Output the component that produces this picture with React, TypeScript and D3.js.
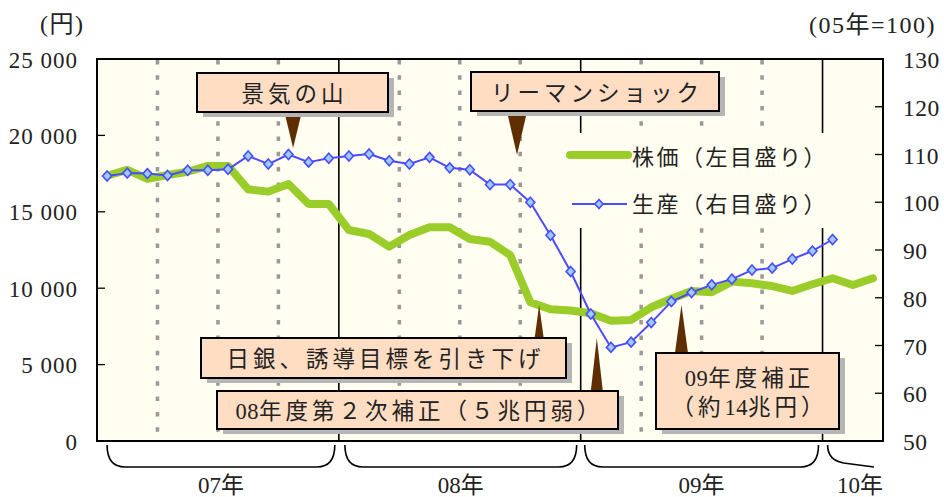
import React from "react";
import * as d3 from "d3";

// ---- data (monthly, Jan 2007 .. Mar 2010) ----
const stockPrice = [
  17360, 17740, 17150, 17410, 17620, 18000, 18000, 16470, 16320, 16820, 15510, 15510,
  13810, 13550, 12720, 13480, 13990, 13990, 13220, 13040, 12170, 9080, 8620, 8540,
  8360, 7870, 7920, 8750, 9310, 9820, 9740, 10430, 10320, 10140, 9820, 10260,
  10650, 10210, 10650,
];
const production = [
  105.5, 106.1, 106.0, 105.6, 106.7, 106.7, 106.9, 109.7, 108.0, 110.0, 108.4, 109.2,
  109.7, 110.1, 108.7, 108.0, 109.4, 107.2, 106.8, 103.7, 103.7, 100.0, 93.1, 85.5,
  76.6, 69.6, 70.7, 74.8, 79.2, 81.1, 82.7, 83.9, 85.8, 86.2, 88.1, 89.8,
  92.2,
];
const leftTicks = [0, 5000, 10000, 15000, 20000, 25000];
const rightTicks = [50, 60, 70, 80, 90, 100, 110, 120, 130];
const years = ["07年", "08年", "09年", "10年"];
const legendLabels = ["株価（左目盛り）", "生産（右目盛り）"];
const TOTAL_MONTHS = 39;

// annotations: month position (continuous, from left edge)
const annotations = [
  { text: ["景気の山"], month: 9.73, dir: "down" },
  { text: ["リーマンショック"], month: 20.84, dir: "down" },
  { text: ["日銀、誘導目標を引き下げ"], month: 21.94, dir: "up" },
  { text: ["08年度第２次補正（５兆円弱）"], month: 24.8, dir: "up" },
  { text: ["09年度補正", "（約14兆円）"], month: 29.0, dir: "up" },
];
// box layouts for annotations (pixel layout, not data)
const boxes = [
  { x0: 197, x1: 388, y0: 73, y1: 112, tipY: 148, aw: 15 },
  { x0: 471, x1: 719, y0: 72, y1: 111, tipY: 155, aw: 18 },
  { x0: 201, x1: 566, y0: 338, y1: 378, tipY: 305, aw: 9 },
  { x0: 217, x1: 618, y0: 391, y1: 429, tipY: 338, aw: 12 },
  { x0: 656, x1: 839, y0: 353, y1: 429, tipY: 305, aw: 13 },
];

const W = 944, H = 497;
const L = 97, R = 883, T = 59, B = 441;
const FONT = "Liberation Serif, DejaVu Serif, serif";
const JFONT = "Liberation Serif, Noto Sans CJK JP, sans-serif";

// render a label: latin digits tight, CJK chars spaced
function spaced(t: string, ls: number) {
  const parts: { s: string; cjk: boolean }[] = [];
  for (const ch of t) {
    const cjk = ch.charCodeAt(0) > 0x2000;
    const last = parts[parts.length - 1];
    if (last && last.cjk === cjk && !cjk) last.s += ch;
    else parts.push({ s: ch, cjk });
  }
  return parts.map((p, i) => (
    <tspan key={i} style={{ letterSpacing: p.cjk ? ls + "px" : "0.5px" }}>
      {p.s}
    </tspan>
  ));
}

export default function App() {
  const x = d3.scaleLinear().domain([0, TOTAL_MONTHS]).range([L, R]);
  const yL = d3.scaleLinear().domain([0, 25000]).range([B, T]);
  const yR = d3.scaleLinear().domain([50, 130]).range([B, T]);

  const stockLine = d3
    .line<number>()
    .x((_, i) => x(i + 0.5))
    .y((d) => yL(d))(stockPrice) as string;
  const prodLine = d3
    .line<number>()
    .x((_, i) => x(i + 0.5))
    .y((d) => yR(d))(production) as string;

  const quarterLines = d3.range(3, TOTAL_MONTHS, 3).filter((m) => m % 12 !== 0);
  const yearLines = d3.range(12, TOTAL_MONTHS, 12);

  const diamond = (cx: number, cy: number, r = 5) =>
    `M${cx},${cy - r}L${cx + r - 0.5},${cy}L${cx},${cy + r}L${cx - r + 0.5},${cy}Z`;

  const fmtLeft = (v: number) => (v === 0 ? "0" : `${Math.floor(v / 1000)} 000`);

  const braceRanges: [number, number][] = [
    [0.5, 11.8],
    [12.3, 23.8],
    [24.2, 35.8],
  ];

  const num = { fontFamily: FONT, fontSize: "23px" } as React.CSSProperties;
  const jp = { fontFamily: JFONT, fontSize: "22px" } as React.CSSProperties;

  return (
    <svg width={W} height={H} style={{ display: "block", position: "absolute", left: 0, top: 0 }}>
      <rect x={0} y={0} width={W} height={H} fill="#fff" />
      <rect x={L} y={T} width={R - L} height={B - T} fill="#FFFEF0" />

      {quarterLines.map((m) => (
        <line key={"q" + m} x1={x(m)} x2={x(m)} y1={T + 1} y2={B - 6} stroke="#999" strokeWidth={3.5} strokeDasharray="4.5 10.8" />
      ))}
      {yearLines.map((m) => (
        <line key={"y" + m} x1={x(m)} x2={x(m)} y1={T} y2={B} stroke="#000" strokeWidth={1.6} />
      ))}

      <rect x={560} y={133} width={280} height={95} fill="#FFFEF0" />

      {leftTicks.slice(1, -1).map((t) => (
        <line key={"lt" + t} x1={L} x2={L + 8} y1={yL(t)} y2={yL(t)} stroke="#000" strokeWidth={1.3} />
      ))}
      {rightTicks.slice(1, -1).map((t) => (
        <line key={"rt" + t} x1={R - 8} x2={R} y1={yR(t)} y2={yR(t)} stroke="#000" strokeWidth={1.3} />
      ))}

      <path d={stockLine} fill="none" stroke="#9ACD2A" strokeWidth={8} strokeLinejoin="round" strokeLinecap="round" />
      <path d={prodLine} fill="none" stroke="#4B4BFF" strokeWidth={2} strokeLinejoin="round" />
      {production.map((v, i) => (
        <path key={"m" + i} d={diamond(x(i + 0.5), yR(v))} fill="#99CCFF" stroke="#4B4BFF" strokeWidth={1.6} />
      ))}

      <rect x={L} y={T} width={R - L} height={B - T} fill="none" stroke="#000" strokeWidth={2} />

      <line x1={570} x2={628} y1={155} y2={155} stroke="#9ACD2A" strokeWidth={8} strokeLinecap="round" />
      <text x={632} y={157.5} style={{ ...jp, letterSpacing: "2.5px" }} dominantBaseline="central" fill="#222">
        {legendLabels[0]}
      </text>
      <line x1={572} x2={627} y1={204} y2={204} stroke="#4B4BFF" strokeWidth={2} />
      <path d={diamond(599, 204, 4.5)} fill="#99CCFF" stroke="#4B4BFF" strokeWidth={1.6} />
      <text x={632} y={204.5} style={{ ...jp, letterSpacing: "2.5px" }} dominantBaseline="central" fill="#222">
        {legendLabels[1]}
      </text>

      {annotations.map((a, k) => {
        const b = boxes[k];
        const ax = x(a.month);
        const baseY = a.dir === "down" ? b.y1 + 5 : b.y0;
        const cx = (b.x0 + b.x1) / 2;
        const cy = (b.y0 + b.y1) / 2;
        const n = a.text.length;
        return (
          <g key={"a" + k}>
            <path d={`M${ax - b.aw / 2},${baseY}L${ax + b.aw / 2},${baseY}L${ax},${b.tipY}Z`} fill="#5E2E00" />
            <rect x={b.x0 + 6} y={b.y0 + 5} width={b.x1 - b.x0} height={b.y1 - b.y0} fill="#B5B5B5" />
            <rect x={b.x0} y={b.y0} width={b.x1 - b.x0} height={b.y1 - b.y0} fill="#FFDDC2" stroke="#000" strokeWidth={2} />
            {a.text.map((t, j) => (
              <text
                key={j}
                x={cx + 2}
                y={cy + (j - (n - 1) / 2) * 29 + 1}
                textAnchor="middle"
                dominantBaseline="central"
                style={{ ...jp, fontSize: "22.5px" }}
                fill="#222"
              >
                {spaced(t, 4)}
              </text>
            ))}
          </g>
        );
      })}

      {leftTicks.map((t) => (
        <text key={"ll" + t} x={78} y={yL(t) + 1} textAnchor="end" dominantBaseline="central" style={{ ...num, letterSpacing: "1px" }} fill="#222">
          {fmtLeft(t)}
        </text>
      ))}
      {rightTicks.map((t) => (
        <text key={"rl" + t} x={903} y={yR(t) + 1} textAnchor="start" dominantBaseline="central" style={{ ...num, fontSize: "23.5px", letterSpacing: "0.5px" }} fill="#222">
          {t}
        </text>
      ))}
      <text x={40} y={24} style={{ ...jp, fontSize: "24px", letterSpacing: "1.5px" }} dominantBaseline="central" fill="#222">
        (円)
      </text>
      <text x={936} y={25} textAnchor="end" style={{ ...jp, fontSize: "24px", letterSpacing: "1.5px" }} dominantBaseline="central" fill="#222">
        (05年=100)
      </text>

      {braceRanges.map(([m0, m1], k) => {
        const x0 = x(m0), x1 = x(m1);
        return (
          <g key={"b" + k}>
            <path
              d={`M${x0},445 C${x0},458 ${x0 + 5},467 ${x0 + 18},467 H${x1 - 18} C${x1 - 5},467 ${x1},458 ${x1},445`}
              fill="none"
              stroke="#000"
              strokeWidth={1.6}
            />
            <text x={(x0 + x1) / 2} y={485.5} textAnchor="middle" dominantBaseline="central" style={{ ...jp, fontSize: "23px" }} fill="#222">
              {years[k]}
            </text>
          </g>
        );
      })}
      <path d={`M${x(36.25)},445 C${x(36.25)},455 ${x(36.25) + 5},461 ${x(36.25) + 16},463 L${x(38.55)},467`} fill="none" stroke="#000" strokeWidth={1.6} />
      <text x={860} y={485.5} textAnchor="middle" dominantBaseline="central" style={{ ...jp, fontSize: "23px" }} fill="#222">
        {years[3]}
      </text>
    </svg>
  );
}
